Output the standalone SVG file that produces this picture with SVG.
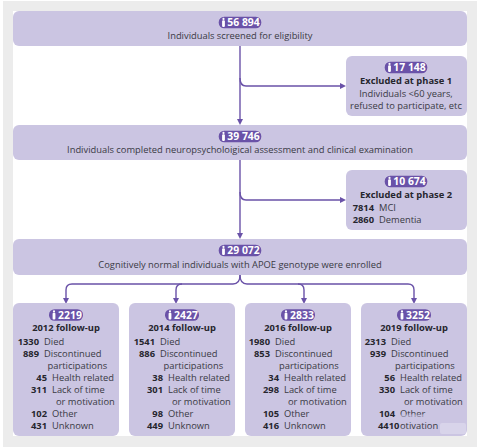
<svg xmlns="http://www.w3.org/2000/svg" width="483" height="448" viewBox="0 0 483 448">
<style>
text{font-family:"Open Sans","Noto Sans",sans-serif;font-size:9.35px;fill:#3a3a44}
.b{font-weight:700;fill:#26262e}
.m{text-anchor:middle}
.e{text-anchor:end}
.box{fill:#cbc5e2}
.pill{fill:#6a52a8}
.p{font-weight:700;fill:#fff;font-size:10.4px;text-anchor:middle}
.ln{fill:none;stroke:#6a52a8;stroke-width:1.4}
.ah{fill:#6a52a8}
.ic{fill:#fff}
</style>
<defs>
<g id="person"><circle cx="0" cy="-3.6" r="1.1"/><rect x="-1.4" y="-2.2" width="2.8" height="6.6" rx="1"/></g>
<g id="pill"><rect class="pill" x="-21.300" y="-5.800" width="42.600" height="11.600" rx="5.500"/></g>
<g id="pills"><rect class="pill" x="-17" y="-5.800" width="34" height="11.600" rx="5.500"/></g>
</defs>
<rect width="483" height="448" fill="#fff"/>
<rect x="3" y="1" width="474" height="446" fill="#ececec"/>
<rect x="13" y="11" width="454" height="425" fill="#fff"/>
<g id="connectors">
<path class="ln" d="M240 46V120"/><path class="ah" d="M237 119h6l-3 6z"/>
<path class="ln" d="M240 78q0 8 6 8H341"/><path class="ah" d="M340 83l6 3-6 3z"/>
<path class="ln" d="M240 160V234"/><path class="ah" d="M237 233h6l-3 6z"/>
<path class="ln" d="M240 192q0 8 6 8H341"/><path class="ah" d="M340 197l6 3-6 3z"/>
<path class="ln" d="M240 275q0 9-7 9H72q-6 0-6 6v9"/><path class="ah" d="M63 298h6l-3 6z"/>
<path class="ln" d="M182 284q-6 0-6 6v9"/><path class="ah" d="M173 298h6l-3 6z"/>
<path class="ln" d="M240 275q0 9 7 9H408q6 0 6 6v9"/><path class="ah" d="M411 298h6l-3 6z"/>
<path class="ln" d="M298 284q6 0 6 6v9"/><path class="ah" d="M301 298h6l-3 6z"/>
</g>
<g id="n1"><rect class="box" x="13" y="11" width="454" height="35" rx="6"/>
<use href="#pill" x="240" y="22.500"/><use href="#person" class="ic" x="223.500" y="22.500"/><text class="p" x="243.500" y="26.200">56 894</text>
<text class="m" x="240" y="39">Individuals screened for eligibility</text></g>
<g id="n2"><rect class="box" x="346" y="56" width="121" height="60" rx="6"/>
<use href="#pill" x="406" y="67.500"/><use href="#person" class="ic" x="389.500" y="67.500"/><text class="p" x="409.500" y="71.200">17 148</text>
<text class="m b" x="406" y="84">Excluded at phase 1</text>
<text class="m" x="406" y="97">Individuals &lt;60 years,</text>
<text class="m" x="406" y="109">refused to participate, etc</text></g>
<g id="n3"><rect class="box" x="13" y="125" width="454" height="35" rx="6"/>
<use href="#pill" x="240" y="136.500"/><use href="#person" class="ic" x="223.500" y="136.500"/><text class="p" x="243.500" y="140.200">39 746</text>
<text class="m" x="240" y="153">Individuals completed neuropsycholoigical assessment and clinical examination</text></g>
<g id="n4"><rect class="box" x="346" y="170" width="121" height="60" rx="6"/>
<use href="#pill" x="406" y="181.500"/><use href="#person" class="ic" x="389.500" y="181.500"/><text class="p" x="409.500" y="185.200">10 674</text>
<text class="m b" x="406" y="198">Excluded at phase 2</text>
<text class="b e" x="374" y="211">7814</text><text x="379" y="211">MCI</text>
<text class="b e" x="374" y="223">2860</text><text x="379" y="223">Dementia</text></g>
<g id="n5"><rect class="box" x="13" y="239" width="454" height="36" rx="6"/>
<use href="#pill" x="240" y="250.500"/><use href="#person" class="ic" x="223.500" y="250.500"/><text class="p" x="243.500" y="254.200">29 072</text>
<text class="m" x="240" y="268">Cognitively normal individuals with APOE genotype were enrolled</text></g>
<g id="n6"><rect class="box" x="13" y="303" width="106" height="133" rx="6"/>
<use href="#pills" x="66" y="315"/><use href="#person" class="ic" x="54" y="315"/><text class="p" x="70" y="318.700">2219</text>
<text class="m b" x="66" y="331">2012 follow-up</text>
<text class="b e" x="39" y="344.500">1330</text><text x="44" y="344.500">Died</text>
<text class="b e" x="39" y="356.500">889</text><text x="44" y="356.500">Discontinued</text>
<text x="47.500" y="368.500">participations</text>
<text class="b e" x="47" y="380.500">45</text><text x="52" y="380.500">Health related</text>
<text class="b e" x="47" y="392.500">311</text><text x="52" y="392.500">Lack of time</text>
<text x="56" y="404.500">or motivation</text>
<text class="b e" x="47" y="416.500">102</text><text x="52" y="416.500">Other</text>
<text class="b e" x="47" y="428.500">431</text><text x="52" y="428.500">Unknown</text></g>
<g id="n7"><rect class="box" x="129" y="303" width="106" height="133" rx="6"/>
<use href="#pills" x="182" y="315"/><use href="#person" class="ic" x="170" y="315"/><text class="p" x="186" y="318.700">2427</text>
<text class="m b" x="182" y="331">2014 follow-up</text>
<text class="b e" x="155" y="344.500">1541</text><text x="160" y="344.500">Died</text>
<text class="b e" x="155" y="356.500">886</text><text x="160" y="356.500">Discontinued</text>
<text x="163.500" y="368.500">participations</text>
<text class="b e" x="163" y="380.500">38</text><text x="168" y="380.500">Health related</text>
<text class="b e" x="163" y="392.500">301</text><text x="168" y="392.500">Lack of time</text>
<text x="172" y="404.500">or motivation</text>
<text class="b e" x="163" y="416.500">98</text><text x="168" y="416.500">Other</text>
<text class="b e" x="163" y="428.500">449</text><text x="168" y="428.500">Unknown</text></g>
<g id="n8"><rect class="box" x="245" y="303" width="106" height="133" rx="6"/>
<use href="#pills" x="298" y="315"/><use href="#person" class="ic" x="286" y="315"/><text class="p" x="302" y="318.700">2833</text>
<text class="m b" x="298" y="331">2016 follow-up</text>
<text class="b e" x="270" y="344.500">1980</text><text x="275" y="344.500">Died</text>
<text class="b e" x="270" y="356.500">853</text><text x="275" y="356.500">Discontinued</text>
<text x="279" y="368.500">participations</text>
<text class="b e" x="279" y="380.500">34</text><text x="284" y="380.500">Health related</text>
<text class="b e" x="279" y="392.500">298</text><text x="284" y="392.500">Lack of time</text>
<text x="288" y="404.500">or motivation</text>
<text class="b e" x="279" y="416.500">105</text><text x="284" y="416.500">Other</text>
<text class="b e" x="279" y="428.500">416</text><text x="284" y="428.500">Unknown</text></g>
<g id="n9"><rect class="box" x="361" y="303" width="106" height="133" rx="6"/>
<use href="#pills" x="414" y="315"/><use href="#person" class="ic" x="402" y="315"/><text class="p" x="418" y="318.700">3252</text>
<text class="m b" x="414" y="331">2019 follow-up</text>
<text class="b e" x="386" y="344.500">2313</text><text x="391" y="344.500">Died</text>
<text class="b e" x="386" y="356.500">939</text><text x="391" y="356.500">Discontinued</text>
<text x="395" y="368.500">participations</text>
<text class="b e" x="395" y="380.500">56</text><text x="400" y="380.500">Health related</text>
<text class="b e" x="395" y="392.500">330</text><text x="400" y="392.500">Lack of time</text>
<text x="404" y="404.500">or motivation</text>
<text class="b e" x="395" y="416.500">104</text><text x="400" y="416.500">Other</text>
<text class="b" x="378" y="428.500">4410</text><text x="400" y="428.500">otivation</text>
<rect x="398" y="414.500" width="28" height="3.500" fill="#cbc5e2" opacity=".55"/>
<rect x="440" y="423" width="26" height="11" rx="2" fill="#d8d4ea"/></g>
</svg>
